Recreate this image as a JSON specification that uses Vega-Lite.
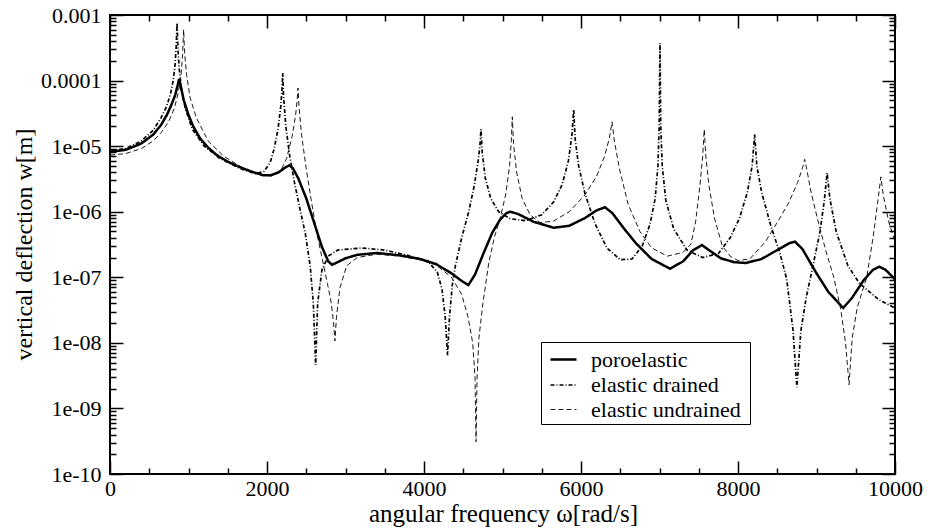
{
  "$schema": "https://vega.github.io/schema/vega-lite/v6.json",
  "autosize": {"type": "none"},
  "width": 785,
  "height": 459,
  "padding": {"left": 110, "top": 15, "right": 33, "bottom": 58},
  "background": "white",
  "config": {
    "view": {"stroke": "black", "strokeWidth": 2},
    "font": "Liberation Serif"
  },
  "datasets": {
    "curves": [
      {"w":0,"v":8.2e-6,"s":"poroelastic"},{"w":200,"v":8.8e-6,"s":"poroelastic"},{"w":400,"v":1.1e-5,"s":"poroelastic"},{"w":550,"v":1.5e-5,"s":"poroelastic"},{"w":650,"v":2.1e-5,"s":"poroelastic"},{"w":725,"v":3.0e-5,"s":"poroelastic"},{"w":780,"v":4.2e-5,"s":"poroelastic"},{"w":830,"v":6.0e-5,"s":"poroelastic"},{"w":860,"v":8.3e-5,"s":"poroelastic"},{"w":880,"v":1.06e-4,"s":"poroelastic"},{"w":900,"v":8.3e-5,"s":"poroelastic"},{"w":940,"v":5.0e-5,"s":"poroelastic"},{"w":1000,"v":3.0e-5,"s":"poroelastic"},{"w":1060,"v":2.0e-5,"s":"poroelastic"},{"w":1150,"v":1.3e-5,"s":"poroelastic"},{"w":1250,"v":9.5e-6,"s":"poroelastic"},{"w":1360,"v":7.3e-6,"s":"poroelastic"},{"w":1500,"v":5.8e-6,"s":"poroelastic"},{"w":1650,"v":4.8e-6,"s":"poroelastic"},{"w":1800,"v":4.1e-6,"s":"poroelastic"},{"w":1950,"v":3.6e-6,"s":"poroelastic"},{"w":2050,"v":3.6e-6,"s":"poroelastic"},{"w":2150,"v":4.0e-6,"s":"poroelastic"},{"w":2230,"v":4.7e-6,"s":"poroelastic"},{"w":2285,"v":5.1e-6,"s":"poroelastic"},{"w":2330,"v":4.6e-6,"s":"poroelastic"},{"w":2400,"v":3.2e-6,"s":"poroelastic"},{"w":2500,"v":1.6e-6,"s":"poroelastic"},{"w":2600,"v":6.8e-7,"s":"poroelastic"},{"w":2700,"v":2.9e-7,"s":"poroelastic"},{"w":2780,"v":1.75e-7,"s":"poroelastic"},{"w":2830,"v":1.55e-7,"s":"poroelastic"},{"w":2900,"v":1.7e-7,"s":"poroelastic"},{"w":3000,"v":1.95e-7,"s":"poroelastic"},{"w":3150,"v":2.2e-7,"s":"poroelastic"},{"w":3400,"v":2.35e-7,"s":"poroelastic"},{"w":3700,"v":2.15e-7,"s":"poroelastic"},{"w":3950,"v":1.9e-7,"s":"poroelastic"},{"w":4150,"v":1.6e-7,"s":"poroelastic"},{"w":4350,"v":1.15e-7,"s":"poroelastic"},{"w":4480,"v":8.8e-8,"s":"poroelastic"},{"w":4565,"v":7.6e-8,"s":"poroelastic"},{"w":4650,"v":1.1e-7,"s":"poroelastic"},{"w":4750,"v":2.2e-7,"s":"poroelastic"},{"w":4870,"v":4.8e-7,"s":"poroelastic"},{"w":4970,"v":7.6e-7,"s":"poroelastic"},{"w":5050,"v":9.5e-7,"s":"poroelastic"},{"w":5100,"v":1.0e-6,"s":"poroelastic"},{"w":5200,"v":9.2e-7,"s":"poroelastic"},{"w":5400,"v":7.0e-7,"s":"poroelastic"},{"w":5650,"v":5.7e-7,"s":"poroelastic"},{"w":5850,"v":6.1e-7,"s":"poroelastic"},{"w":6050,"v":8.0e-7,"s":"poroelastic"},{"w":6200,"v":1.05e-6,"s":"poroelastic"},{"w":6306,"v":1.17e-6,"s":"poroelastic"},{"w":6400,"v":9.5e-7,"s":"poroelastic"},{"w":6550,"v":5.5e-7,"s":"poroelastic"},{"w":6700,"v":3.3e-7,"s":"poroelastic"},{"w":6900,"v":1.9e-7,"s":"poroelastic"},{"w":7135,"v":1.35e-7,"s":"poroelastic"},{"w":7300,"v":1.75e-7,"s":"poroelastic"},{"w":7430,"v":2.6e-7,"s":"poroelastic"},{"w":7540,"v":3.1e-7,"s":"poroelastic"},{"w":7650,"v":2.5e-7,"s":"poroelastic"},{"w":7780,"v":1.95e-7,"s":"poroelastic"},{"w":7950,"v":1.7e-7,"s":"poroelastic"},{"w":8100,"v":1.65e-7,"s":"poroelastic"},{"w":8300,"v":1.9e-7,"s":"poroelastic"},{"w":8500,"v":2.6e-7,"s":"poroelastic"},{"w":8650,"v":3.3e-7,"s":"poroelastic"},{"w":8725,"v":3.5e-7,"s":"poroelastic"},{"w":8820,"v":2.7e-7,"s":"poroelastic"},{"w":9000,"v":1.15e-7,"s":"poroelastic"},{"w":9150,"v":6e-8,"s":"poroelastic"},{"w":9340,"v":3.4e-8,"s":"poroelastic"},{"w":9450,"v":4.8e-8,"s":"poroelastic"},{"w":9600,"v":9e-8,"s":"poroelastic"},{"w":9720,"v":1.3e-7,"s":"poroelastic"},{"w":9800,"v":1.45e-7,"s":"poroelastic"},{"w":9880,"v":1.3e-7,"s":"poroelastic"},{"w":10000,"v":9.3e-8,"s":"poroelastic"},

      {"w":0,"v":8.5e-6,"s":"elastic drained"},{"w":200,"v":9.2e-6,"s":"elastic drained"},{"w":400,"v":1.2e-5,"s":"elastic drained"},{"w":550,"v":1.75e-5,"s":"elastic drained"},{"w":650,"v":2.7e-5,"s":"elastic drained"},{"w":720,"v":4.0e-5,"s":"elastic drained"},{"w":770,"v":6.2e-5,"s":"elastic drained"},{"w":805,"v":1.0e-4,"s":"elastic drained"},{"w":828,"v":1.7e-4,"s":"elastic drained"},{"w":843,"v":3.3e-4,"s":"elastic drained"},{"w":854,"v":7.6e-4,"s":"elastic drained"},{"w":866,"v":3.0e-4,"s":"elastic drained"},{"w":882,"v":1.5e-4,"s":"elastic drained"},{"w":910,"v":7.5e-5,"s":"elastic drained"},{"w":960,"v":3.7e-5,"s":"elastic drained"},{"w":1050,"v":1.8e-5,"s":"elastic drained"},{"w":1200,"v":1.0e-5,"s":"elastic drained"},{"w":1400,"v":6.5e-6,"s":"elastic drained"},{"w":1650,"v":4.6e-6,"s":"elastic drained"},{"w":1850,"v":3.8e-6,"s":"elastic drained"},{"w":1960,"v":4.1e-6,"s":"elastic drained"},{"w":2040,"v":5.6e-6,"s":"elastic drained"},{"w":2090,"v":9e-6,"s":"elastic drained"},{"w":2140,"v":1.8e-5,"s":"elastic drained"},{"w":2175,"v":4.0e-5,"s":"elastic drained"},{"w":2192,"v":7.5e-5,"s":"elastic drained"},{"w":2200,"v":1.3e-4,"s":"elastic drained"},{"w":2210,"v":6e-5,"s":"elastic drained"},{"w":2240,"v":2.0e-5,"s":"elastic drained"},{"w":2290,"v":7e-6,"s":"elastic drained"},{"w":2350,"v":2.8e-6,"s":"elastic drained"},{"w":2420,"v":1.1e-6,"s":"elastic drained"},{"w":2490,"v":4.5e-7,"s":"elastic drained"},{"w":2550,"v":1.5e-7,"s":"elastic drained"},{"w":2590,"v":4e-8,"s":"elastic drained"},{"w":2620,"v":4.6e-9,"s":"elastic drained"},{"w":2645,"v":4e-8,"s":"elastic drained"},{"w":2700,"v":1.3e-7,"s":"elastic drained"},{"w":2780,"v":2.1e-7,"s":"elastic drained"},{"w":2900,"v":2.6e-7,"s":"elastic drained"},{"w":3200,"v":2.8e-7,"s":"elastic drained"},{"w":3500,"v":2.6e-7,"s":"elastic drained"},{"w":3800,"v":2.15e-7,"s":"elastic drained"},{"w":4050,"v":1.75e-7,"s":"elastic drained"},{"w":4170,"v":1.2e-7,"s":"elastic drained"},{"w":4230,"v":6.5e-8,"s":"elastic drained"},{"w":4270,"v":2.5e-8,"s":"elastic drained"},{"w":4300,"v":6.5e-9,"s":"elastic drained"},{"w":4325,"v":2.5e-8,"s":"elastic drained"},{"w":4360,"v":7.5e-8,"s":"elastic drained"},{"w":4400,"v":1.5e-7,"s":"elastic drained"},{"w":4480,"v":4e-7,"s":"elastic drained"},{"w":4570,"v":1.0e-6,"s":"elastic drained"},{"w":4640,"v":2.5e-6,"s":"elastic drained"},{"w":4690,"v":6e-6,"s":"elastic drained"},{"w":4712,"v":1.0e-5,"s":"elastic drained"},{"w":4726,"v":1.8e-5,"s":"elastic drained"},{"w":4742,"v":8e-6,"s":"elastic drained"},{"w":4780,"v":3.3e-6,"s":"elastic drained"},{"w":4850,"v":1.6e-6,"s":"elastic drained"},{"w":4950,"v":1.0e-6,"s":"elastic drained"},{"w":5100,"v":7.8e-7,"s":"elastic drained"},{"w":5300,"v":7.3e-7,"s":"elastic drained"},{"w":5500,"v":9e-7,"s":"elastic drained"},{"w":5650,"v":1.4e-6,"s":"elastic drained"},{"w":5760,"v":2.6e-6,"s":"elastic drained"},{"w":5840,"v":6e-6,"s":"elastic drained"},{"w":5885,"v":1.5e-5,"s":"elastic drained"},{"w":5907,"v":3.6e-5,"s":"elastic drained"},{"w":5925,"v":1.3e-5,"s":"elastic drained"},{"w":5970,"v":5e-6,"s":"elastic drained"},{"w":6050,"v":1.9e-6,"s":"elastic drained"},{"w":6180,"v":6.5e-7,"s":"elastic drained"},{"w":6330,"v":2.8e-7,"s":"elastic drained"},{"w":6500,"v":1.85e-7,"s":"elastic drained"},{"w":6650,"v":1.9e-7,"s":"elastic drained"},{"w":6780,"v":3.0e-7,"s":"elastic drained"},{"w":6880,"v":6.5e-7,"s":"elastic drained"},{"w":6945,"v":1.6e-6,"s":"elastic drained"},{"w":6980,"v":5e-6,"s":"elastic drained"},{"w":6996,"v":2e-5,"s":"elastic drained"},{"w":7006,"v":3.7e-4,"s":"elastic drained"},{"w":7016,"v":2e-5,"s":"elastic drained"},{"w":7035,"v":5e-6,"s":"elastic drained"},{"w":7080,"v":1.5e-6,"s":"elastic drained"},{"w":7180,"v":5.5e-7,"s":"elastic drained"},{"w":7350,"v":2.6e-7,"s":"elastic drained"},{"w":7550,"v":2.0e-7,"s":"elastic drained"},{"w":7750,"v":2.3e-7,"s":"elastic drained"},{"w":7900,"v":4.0e-7,"s":"elastic drained"},{"w":8020,"v":8e-7,"s":"elastic drained"},{"w":8120,"v":2.0e-6,"s":"elastic drained"},{"w":8180,"v":5e-6,"s":"elastic drained"},{"w":8212,"v":1.5e-5,"s":"elastic drained"},{"w":8240,"v":5e-6,"s":"elastic drained"},{"w":8300,"v":2.0e-6,"s":"elastic drained"},{"w":8420,"v":6e-7,"s":"elastic drained"},{"w":8540,"v":2.2e-7,"s":"elastic drained"},{"w":8620,"v":9.4e-8,"s":"elastic drained"},{"w":8700,"v":1.6e-8,"s":"elastic drained"},{"w":8750,"v":2.1e-9,"s":"elastic drained"},{"w":8800,"v":1.5e-8,"s":"elastic drained"},{"w":8870,"v":5e-8,"s":"elastic drained"},{"w":8960,"v":1.6e-7,"s":"elastic drained"},{"w":9045,"v":5e-7,"s":"elastic drained"},{"w":9100,"v":1.5e-6,"s":"elastic drained"},{"w":9135,"v":3.9e-6,"s":"elastic drained"},{"w":9170,"v":1.6e-6,"s":"elastic drained"},{"w":9250,"v":5e-7,"s":"elastic drained"},{"w":9400,"v":1.5e-7,"s":"elastic drained"},{"w":9550,"v":8e-8,"s":"elastic drained"},{"w":9800,"v":4.5e-8,"s":"elastic drained"},{"w":10000,"v":3.4e-8,"s":"elastic drained"},

      {"w":0,"v":7.3e-6,"s":"elastic undrained"},{"w":200,"v":7.7e-6,"s":"elastic undrained"},{"w":400,"v":9.2e-6,"s":"elastic undrained"},{"w":550,"v":1.2e-5,"s":"elastic undrained"},{"w":650,"v":1.6e-5,"s":"elastic undrained"},{"w":750,"v":2.4e-5,"s":"elastic undrained"},{"w":820,"v":3.8e-5,"s":"elastic undrained"},{"w":870,"v":6.5e-5,"s":"elastic undrained"},{"w":905,"v":1.2e-4,"s":"elastic undrained"},{"w":925,"v":2.5e-4,"s":"elastic undrained"},{"w":938,"v":6.0e-4,"s":"elastic undrained"},{"w":951,"v":2.6e-4,"s":"elastic undrained"},{"w":975,"v":1.25e-4,"s":"elastic undrained"},{"w":1020,"v":5.5e-5,"s":"elastic undrained"},{"w":1100,"v":2.7e-5,"s":"elastic undrained"},{"w":1250,"v":1.2e-5,"s":"elastic undrained"},{"w":1450,"v":7.0e-6,"s":"elastic undrained"},{"w":1700,"v":4.6e-6,"s":"elastic undrained"},{"w":1900,"v":3.7e-6,"s":"elastic undrained"},{"w":2050,"v":3.5e-6,"s":"elastic undrained"},{"w":2165,"v":4.0e-6,"s":"elastic undrained"},{"w":2250,"v":6.5e-6,"s":"elastic undrained"},{"w":2320,"v":1.4e-5,"s":"elastic undrained"},{"w":2365,"v":3.0e-5,"s":"elastic undrained"},{"w":2385,"v":5.2e-5,"s":"elastic undrained"},{"w":2395,"v":7.7e-5,"s":"elastic undrained"},{"w":2408,"v":4e-5,"s":"elastic undrained"},{"w":2440,"v":1.5e-5,"s":"elastic undrained"},{"w":2500,"v":4.5e-6,"s":"elastic undrained"},{"w":2560,"v":1.6e-6,"s":"elastic undrained"},{"w":2630,"v":5e-7,"s":"elastic undrained"},{"w":2700,"v":2.0e-7,"s":"elastic undrained"},{"w":2770,"v":8e-8,"s":"elastic undrained"},{"w":2820,"v":4e-8,"s":"elastic undrained"},{"w":2848,"v":2e-8,"s":"elastic undrained"},{"w":2866,"v":1.07e-8,"s":"elastic undrained"},{"w":2885,"v":2.5e-8,"s":"elastic undrained"},{"w":2930,"v":7e-8,"s":"elastic undrained"},{"w":3015,"v":1.5e-7,"s":"elastic undrained"},{"w":3150,"v":2.0e-7,"s":"elastic undrained"},{"w":3400,"v":2.25e-7,"s":"elastic undrained"},{"w":3700,"v":2.1e-7,"s":"elastic undrained"},{"w":3950,"v":1.85e-7,"s":"elastic undrained"},{"w":4150,"v":1.55e-7,"s":"elastic undrained"},{"w":4350,"v":1.0e-7,"s":"elastic undrained"},{"w":4480,"v":5.5e-8,"s":"elastic undrained"},{"w":4560,"v":2.5e-8,"s":"elastic undrained"},{"w":4620,"v":1e-8,"s":"elastic undrained"},{"w":4650,"v":3e-9,"s":"elastic undrained"},{"w":4663,"v":3.1e-10,"s":"elastic undrained"},{"w":4676,"v":3e-9,"s":"elastic undrained"},{"w":4700,"v":1.2e-8,"s":"elastic undrained"},{"w":4750,"v":4e-8,"s":"elastic undrained"},{"w":4830,"v":1.8e-7,"s":"elastic undrained"},{"w":4900,"v":4.2e-7,"s":"elastic undrained"},{"w":4970,"v":8e-7,"s":"elastic undrained"},{"w":5040,"v":1.8e-6,"s":"elastic undrained"},{"w":5090,"v":5e-6,"s":"elastic undrained"},{"w":5112,"v":1.2e-5,"s":"elastic undrained"},{"w":5125,"v":2.8e-5,"s":"elastic undrained"},{"w":5140,"v":1.1e-5,"s":"elastic undrained"},{"w":5180,"v":4e-6,"s":"elastic undrained"},{"w":5250,"v":1.6e-6,"s":"elastic undrained"},{"w":5350,"v":9e-7,"s":"elastic undrained"},{"w":5480,"v":6.8e-7,"s":"elastic undrained"},{"w":5650,"v":7.2e-7,"s":"elastic undrained"},{"w":5850,"v":1.0e-6,"s":"elastic undrained"},{"w":6050,"v":1.8e-6,"s":"elastic undrained"},{"w":6200,"v":3.5e-6,"s":"elastic undrained"},{"w":6300,"v":7e-6,"s":"elastic undrained"},{"w":6360,"v":1.3e-5,"s":"elastic undrained"},{"w":6395,"v":2.35e-5,"s":"elastic undrained"},{"w":6425,"v":1.2e-5,"s":"elastic undrained"},{"w":6490,"v":4.5e-6,"s":"elastic undrained"},{"w":6600,"v":1.3e-6,"s":"elastic undrained"},{"w":6750,"v":5e-7,"s":"elastic undrained"},{"w":6900,"v":2.8e-7,"s":"elastic undrained"},{"w":7100,"v":2.1e-7,"s":"elastic undrained"},{"w":7300,"v":2.4e-7,"s":"elastic undrained"},{"w":7400,"v":3.2e-7,"s":"elastic undrained"},{"w":7460,"v":7e-7,"s":"elastic undrained"},{"w":7515,"v":2.5e-6,"s":"elastic undrained"},{"w":7550,"v":7e-6,"s":"elastic undrained"},{"w":7570,"v":1.8e-5,"s":"elastic undrained"},{"w":7590,"v":7e-6,"s":"elastic undrained"},{"w":7630,"v":2.5e-6,"s":"elastic undrained"},{"w":7700,"v":8e-7,"s":"elastic undrained"},{"w":7800,"v":3.0e-7,"s":"elastic undrained"},{"w":7900,"v":2.1e-7,"s":"elastic undrained"},{"w":8000,"v":1.8e-7,"s":"elastic undrained"},{"w":8150,"v":1.9e-7,"s":"elastic undrained"},{"w":8350,"v":3.5e-7,"s":"elastic undrained"},{"w":8520,"v":7.5e-7,"s":"elastic undrained"},{"w":8650,"v":1.4e-6,"s":"elastic undrained"},{"w":8760,"v":2.8e-6,"s":"elastic undrained"},{"w":8825,"v":4.8e-6,"s":"elastic undrained"},{"w":8850,"v":6.3e-6,"s":"elastic undrained"},{"w":8875,"v":4.5e-6,"s":"elastic undrained"},{"w":8930,"v":2.0e-6,"s":"elastic undrained"},{"w":9010,"v":8e-7,"s":"elastic undrained"},{"w":9120,"v":2.5e-7,"s":"elastic undrained"},{"w":9220,"v":1e-7,"s":"elastic undrained"},{"w":9310,"v":3.2e-8,"s":"elastic undrained"},{"w":9370,"v":1e-8,"s":"elastic undrained"},{"w":9415,"v":2.3e-9,"s":"elastic undrained"},{"w":9455,"v":1.2e-8,"s":"elastic undrained"},{"w":9520,"v":3.5e-8,"s":"elastic undrained"},{"w":9640,"v":1.0e-7,"s":"elastic undrained"},{"w":9720,"v":4e-7,"s":"elastic undrained"},{"w":9780,"v":1.4e-6,"s":"elastic undrained"},{"w":9820,"v":3.4e-6,"s":"elastic undrained"},{"w":9850,"v":1.8e-6,"s":"elastic undrained"},{"w":9920,"v":7e-7,"s":"elastic undrained"},{"w":10000,"v":3.5e-7,"s":"elastic undrained"}
    ]
  },
  "data": {"name": "curves"},
  "resolve": {"axis": {"x": "independent", "y": "independent"}},
  "layer": [
    {
      "mark": {"type": "line", "color": "black", "clip": true},
      "encoding": {
        "x": {
          "field": "w", "type": "quantitative",
          "scale": {"domain": [0, 10000], "nice": false, "zero": false},
          "axis": {
            "orient": "bottom",
            "values": [0,500,1000,1500,2000,2500,3000,3500,4000,4500,5000,5500,6000,6500,7000,7500,8000,8500,9000,9500,10000],
            "labelExpr": "datum.value % 2000 === 0 ? '' + datum.value : ''",
            "tickSize": {"condition": {"test": "datum.value % 2000 === 0", "value": -13}, "value": -6},
            "tickColor": "black", "tickWidth": 1.5,
            "domain": false, "grid": false,
            "labelFont": "Liberation Serif", "labelFontSize": 22, "labelColor": "black",
            "labelBaseline": "alphabetic", "labelPadding": 34,
            "labelOverlap": false, "labelFlush": false, "labelBound": false,
            "title": "angular frequency ω[rad/s]",
            "titleFont": "Liberation Serif", "titleFontSize": 25, "titleFontWeight": "normal", "titleColor": "black",
            "titleBaseline": "alphabetic", "titleX": 393, "titleY": 47, "titleAlign": "center"
          }
        },
        "y": {
          "field": "v", "type": "quantitative",
          "scale": {"type": "log", "domain": [1e-10, 1e-3], "nice": false},
          "axis": {
            "orient": "left",
            "values": [1e-10,2e-10,3e-10,4e-10,5e-10,6e-10,7e-10,8e-10,9e-10,1e-9,2e-9,3e-9,4e-9,5e-9,6e-9,7e-9,8e-9,9e-9,1e-8,2e-8,3e-8,4e-8,5e-8,6e-8,7e-8,8e-8,9e-8,1e-7,2e-7,3e-7,4e-7,5e-7,6e-7,7e-7,8e-7,9e-7,1e-6,2e-6,3e-6,4e-6,5e-6,6e-6,7e-6,8e-6,9e-6,1e-5,2e-5,3e-5,4e-5,5e-5,6e-5,7e-5,8e-5,9e-5,1e-4,2e-4,3e-4,4e-4,5e-4,6e-4,7e-4,8e-4,9e-4,1e-3],
            "labelExpr": "abs(log(datum.value)/LN10 - round(log(datum.value)/LN10)) > 0.001 ? '' : (round(log(datum.value)/LN10) == -3 ? '0.001' : round(log(datum.value)/LN10) == -4 ? '0.0001' : round(log(datum.value)/LN10) == -10 ? '1e-10' : '1e-0' + (-round(log(datum.value)/LN10)))",
            "tickSize": {"condition": {"test": "abs(log(datum.value)/LN10 - round(log(datum.value)/LN10)) < 0.001", "value": -13}, "value": -6},
            "tickColor": "black", "tickWidth": 1.5,
            "domain": false, "grid": false,
            "labelFont": "Liberation Serif", "labelFontSize": 22, "labelColor": "black",
            "labelBaseline": "middle", "labelPadding": 22,
            "labelOverlap": false, "labelFlush": false, "labelBound": false,
            "title": "vertical deflection w[m]",
            "titleFont": "Liberation Serif", "titleFontSize": 24, "titleFontWeight": "normal", "titleColor": "black",
            "titleAngle": -90, "titleBaseline": "alphabetic", "titleAlign": "center", "titleX": -79, "titleY": 229
          }
        },
        "strokeDash": {
          "field": "s", "type": "nominal",
          "scale": {"domain": ["poroelastic", "elastic drained", "elastic undrained"], "range": [[1, 0], [4, 2, 1, 2], [5, 3]]},
          "legend": {
            "title": null, "orient": "none", "legendX": 431, "legendY": 327,
            "strokeColor": "black", "fillColor": "white", "padding": 3,
            "symbolType": "stroke", "symbolSize": 676, "symbolOffset": 5,
            "symbolStrokeColor": "black", "symbolStrokeWidth": 1,
            "labelFont": "Liberation Serif", "labelFontSize": 22, "labelColor": "black",
            "labelOffset": 13, "rowPadding": -2, "labelLimit": 400,
            "labelExpr": "datum.label + ' \u200b'",
            "encode": {"symbols": {"update": {"strokeWidth": {"signal": "datum.value === 'poroelastic' ? 2.5 : 1"}}}}
          }
        },
        "strokeWidth": {
          "field": "s", "type": "nominal",
          "scale": {"domain": ["poroelastic", "elastic drained", "elastic undrained"], "range": [2.5, 0.9, 0.9]},
          "legend": null
        }
      }
    },
    {
      "mark": {"type": "line", "strokeOpacity": 0},
      "encoding": {
        "x": {
          "field": "w", "type": "quantitative",
          "axis": {
            "orient": "top",
            "values": [0,500,1000,1500,2000,2500,3000,3500,4000,4500,5000,5500,6000,6500,7000,7500,8000,8500,9000,9500,10000],
            "labels": false, "domain": false, "grid": false, "title": null,
            "tickSize": {"condition": {"test": "datum.value % 2000 === 0", "value": -13}, "value": -6},
            "tickColor": "black", "tickWidth": 1.5
          }
        },
        "y": {
          "field": "v", "type": "quantitative",
          "axis": {
            "orient": "right",
            "values": [1e-10,2e-10,3e-10,4e-10,5e-10,6e-10,7e-10,8e-10,9e-10,1e-9,2e-9,3e-9,4e-9,5e-9,6e-9,7e-9,8e-9,9e-9,1e-8,2e-8,3e-8,4e-8,5e-8,6e-8,7e-8,8e-8,9e-8,1e-7,2e-7,3e-7,4e-7,5e-7,6e-7,7e-7,8e-7,9e-7,1e-6,2e-6,3e-6,4e-6,5e-6,6e-6,7e-6,8e-6,9e-6,1e-5,2e-5,3e-5,4e-5,5e-5,6e-5,7e-5,8e-5,9e-5,1e-4,2e-4,3e-4,4e-4,5e-4,6e-4,7e-4,8e-4,9e-4,1e-3],
            "labels": false, "domain": false, "grid": false, "title": null,
            "tickSize": {"condition": {"test": "abs(log(datum.value)/LN10 - round(log(datum.value)/LN10)) < 0.001", "value": -13}, "value": -6},
            "tickColor": "black", "tickWidth": 1.5
          }
        }
      }
    }
  ]
}
